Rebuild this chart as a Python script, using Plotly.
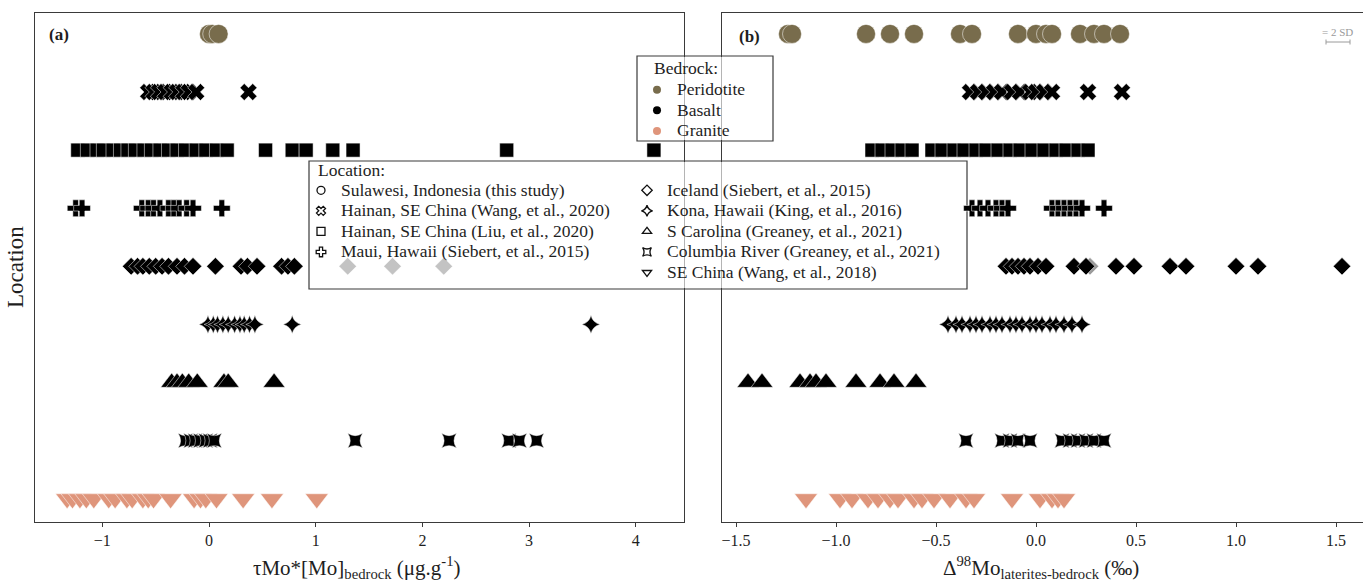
import plotly.graph_objects as go

# ---- categories -------------------------------------------------------------
locations = [
    "Sulawesi, Indonesia (this study)",
    "Hainan, SE China (Wang, et al., 2020)",
    "Hainan, SE China (Liu, et al., 2020)",
    "Maui, Hawaii (Siebert, et al., 2015)",
    "Iceland (Siebert, et al., 2015)",
    "Kona, Hawaii (King, et al., 2016)",
    "S Carolina (Greaney, et al., 2021)",
    "Columbia River (Greaney, et al., 2021)",
    "SE China (Wang, et al., 2018)",
]
location_bedrock = ["Peridotite", "Basalt", "Basalt", "Basalt", "Basalt",
                    "Basalt", "Basalt", "Basalt", "Granite"]
bedrock_types = ["Peridotite", "Basalt", "Granite"]

# ---- (a) tauMo * [Mo]bedrock, ug/g -----------------------------------------
tau_sulawesi = [0.0, 0.03, 0.09]
tau_hainan_wang = [-0.57, -0.52, -0.47, -0.41, -0.35, -0.30, -0.24, -0.19, -0.12, 0.37]
tau_hainan_liu = [-1.23, -1.14, -1.05, -0.99, -0.90, -0.83, -0.76, -0.69, -0.61, -0.54,
                  -0.46, -0.38, -0.30, -0.22, -0.12, -0.03, 0.07, 0.17, 0.53, 0.78,
                  0.91, 1.16, 1.35, 2.79, 4.17]
tau_maui = [-1.25, -1.19, -0.63, -0.57, -0.52, -0.46, -0.38, -0.33, -0.28, -0.21, -0.15, 0.12]
tau_iceland = [-0.73, -0.67, -0.62, -0.56, -0.50, -0.44, -0.38, -0.30, -0.23, -0.15,
               0.06, 0.30, 0.36, 0.45, 0.68, 0.74, 0.80]
tau_iceland_grey = [1.30, 1.72, 2.20]
tau_kona = [-0.01, 0.04, 0.08, 0.13, 0.18, 0.24, 0.29, 0.33, 0.38, 0.43, 0.78, 3.58]
tau_s_carolina = [-0.35, -0.30, -0.25, -0.19, -0.11, 0.14, 0.18, 0.61]
tau_columbia = [-0.22, -0.17, -0.13, -0.08, -0.03, 0.01, 0.05, 1.37, 2.25, 2.81, 2.91, 3.07]
tau_se_china = [-1.33, -1.28, -1.21, -1.15, -1.08, -0.94, -0.88, -0.77, -0.72, -0.62,
                -0.57, -0.52, -0.36, -0.14, -0.08, -0.03, 0.07, 0.32, 0.59, 1.01]

# ---- (b) D98Mo laterites-bedrock, permil -----------------------------------
d98_sulawesi = [-1.24, -1.22, -0.85, -0.73, -0.61, -0.38, -0.32, -0.09, 0.0, 0.05,
                0.08, 0.22, 0.29, 0.34, 0.42]
d98_hainan_wang = [-0.33, -0.29, -0.25, -0.21, -0.17, -0.12, -0.08, -0.03, 0.0, 0.04,
                   0.08, 0.26, 0.43]
d98_hainan_liu = [-0.82, -0.77, -0.72, -0.67, -0.62, -0.52, -0.47, -0.41, -0.36, -0.30,
                  -0.25, -0.19, -0.13, -0.08, -0.02, 0.04, 0.10, 0.15, 0.21, 0.26]
d98_maui = [-0.32, -0.28, -0.24, -0.20, -0.17, -0.14, 0.08, 0.11, 0.14, 0.17, 0.20, 0.23, 0.34]
d98_iceland = [-0.15, -0.12, -0.09, -0.06, -0.03, 0.01, 0.05, 0.19, 0.25, 0.40,
               0.49, 0.67, 0.75, 1.00, 1.11, 1.53]
d98_iceland_grey = [0.27]
d98_kona = [-0.44, -0.40, -0.37, -0.33, -0.30, -0.27, -0.23, -0.20, -0.17, -0.13,
            -0.10, -0.07, -0.03, 0.0, 0.03, 0.07, 0.10, 0.14, 0.18, 0.23]
d98_s_carolina = [-1.44, -1.37, -1.18, -1.13, -1.10, -1.05, -0.90, -0.78, -0.71, -0.60]
d98_columbia = [-0.35, -0.17, -0.13, -0.09, -0.03, 0.13, 0.17, 0.21, 0.25, 0.29, 0.34]
d98_se_china = [-1.15, -0.98, -0.92, -0.84, -0.79, -0.73, -0.69, -0.61, -0.57, -0.51,
                -0.43, -0.35, -0.31, -0.12, 0.02, 0.08, 0.11, 0.14]

tau_values = [tau_sulawesi, tau_hainan_wang, tau_hainan_liu, tau_maui, tau_iceland,
              tau_kona, tau_s_carolina, tau_columbia, tau_se_china]
d98_values = [d98_sulawesi, d98_hainan_wang, d98_hainan_liu, d98_maui, d98_iceland,
              d98_kona, d98_s_carolina, d98_columbia, d98_se_china]

# ---- styling ----------------------------------------------------------------
bedrock_colors = {"Peridotite": "#786c4c", "Basalt": "#000000", "Granite": "#df957b"}
grey_color = "#c3c3c3"
symbols = ["circle", "x", "square", "cross", "diamond", "star-diamond",
           "triangle-up", "star-square", "triangle-down"]
legend_symbols = ["circle-open", "x-open", "square-open", "cross-open", "diamond-open",
                  "star-diamond-open", "triangle-up-open", "star-square-open",
                  "triangle-down-open"]
sizes = [19, 15, 14, 14, 13.5, 13, 19, 13.5, 20]

FONT = "Liberation Serif"
TXT = "#1e1e1e"
LINE = "#3a3a3a"
KEY_FONT = 13.5      # sets the legend row pitch
LABEL_FONT = 17.5    # size of the legend wording itself

W, H = 1363, 583
ML, MR, MT, MB = 35, 0, 13, 61
PW, PH = W - ML - MR, H - MT - MB


def px(x):
    return (x - ML) / PW


def py(y):
    return (H - MB - y) / PH


def key_label(text):
    return '<span style="font-size:%spx">%s</span>' % (LABEL_FONT, text)


fig = go.Figure()

edge = dict(color="rgba(255,255,255,0.85)", width=0.6)

# grey Iceland points sit beneath the black ones
fig.add_trace(go.Scatter(x=tau_iceland_grey, y=[locations[4]] * len(tau_iceland_grey),
                         mode="markers", xaxis="x", yaxis="y", showlegend=False,
                         marker=dict(symbol="diamond", size=sizes[4], color=grey_color, line=edge)))
fig.add_trace(go.Scatter(x=d98_iceland_grey, y=[locations[4]] * len(d98_iceland_grey),
                         mode="markers", xaxis="x2", yaxis="y2", showlegend=False,
                         marker=dict(symbol="diamond", size=sizes[4], color="#9a9a9a", line=edge)))

for i, loc in enumerate(locations):
    col = bedrock_colors[location_bedrock[i]]
    for xs, xa, ya in ((tau_values[i], "x", "y"), (d98_values[i], "x2", "y2")):
        fig.add_trace(go.Scatter(
            x=xs, y=[loc] * len(xs), mode="markers", xaxis=xa, yaxis=ya,
            showlegend=False, name=loc,
            marker=dict(symbol=symbols[i], size=sizes[i], color=col, line=edge)))

# legend entries: bedrock colours
for rock in bedrock_types:
    fig.add_trace(go.Scatter(x=[None], y=[None], mode="markers", name=key_label(rock),
                             legend="legend",
                             marker=dict(symbol="circle", size=8, color=bedrock_colors[rock])))
# legend entries: location symbols, split over two columns
for i, loc in enumerate(locations):
    fig.add_trace(go.Scatter(x=[None], y=[None], mode="markers", name=key_label(loc),
                             legend="legend2" if i < 4 else "legend3",
                             marker=dict(symbol=legend_symbols[i], size=8, color="#111",
                                         line=dict(width=1.3, color="#111"))))

axis_common = dict(showline=True, linecolor=LINE, linewidth=1.2, showgrid=False,
                   zeroline=False, ticks="outside", ticklen=4, tickcolor=LINE,
                   tickfont=dict(family=FONT, size=16, color=TXT))

legend_common = dict(xanchor="left", yanchor="top", bgcolor="rgba(0,0,0,0)",
                     borderwidth=0, itemwidth=30,
                     font=dict(family=FONT, size=KEY_FONT, color=TXT))

fig.update_layout(
    width=W, height=H,
    margin=dict(l=ML, r=MR, t=MT, b=MB),
    paper_bgcolor="white", plot_bgcolor="white",
    font=dict(family=FONT, size=16, color=TXT),
    xaxis=dict(domain=[0, px(684)], range=[-1.631, 4.452], tickvals=[-1, 0, 1, 2, 3, 4],
               mirror=True, anchor="y", **axis_common),
    yaxis=dict(domain=[0, 1], anchor="x", type="category", categoryorder="array",
               categoryarray=locations, range=[8.40, -0.36], showticklabels=False,
               showline=True, linecolor=LINE, linewidth=1.2, mirror=True,
               showgrid=False, zeroline=False, ticks=""),
    xaxis2=dict(domain=[px(722), 1], range=[-1.57, 1.635],
                tickvals=[-1.5, -1.0, -0.5, 0.0, 0.5, 1.0, 1.5], tickformat=".1f",
                mirror=True, anchor="y2", **axis_common),
    yaxis2=dict(domain=[0, 1], anchor="x2", type="category", categoryorder="array",
                categoryarray=locations, range=[8.40, -0.36], showticklabels=False,
                showline=True, linecolor=LINE, linewidth=1.2, mirror=False,
                showgrid=False, zeroline=False, ticks=""),
    legend=dict(x=px(637), y=py(74.5), **legend_common),
    legend2=dict(x=px(301), y=py(175), **legend_common),
    legend3=dict(x=px(627), y=py(175), **legend_common),
)

# legend frames (drawn under the data so points stay visible)
box_line = dict(color=LINE, width=1.2)
legend_boxes = ((637, 56, 773, 141), (309, 161, 967, 289))
for x0, y0, x1, y1 in legend_boxes:
    fig.add_shape(type="rect", xref="paper", yref="paper", layer="below",
                  x0=px(x0), x1=px(x1), y0=py(y1), y1=py(y0),
                  fillcolor="white", line=box_line)
# soften the panel borders where they pass behind the legend frames
for x0, y0, x1, y1 in legend_boxes:
    for xl in (684, 722):
        fig.add_shape(type="rect", xref="paper", yref="paper", layer="above",
                      x0=px(xl - 1.5), x1=px(xl + 1.5), y0=py(y1 - 1), y1=py(y0 + 1),
                      fillcolor="rgba(255,255,255,0.62)", line=dict(width=0))

# 2 SD scale bar
sd_col = "#9a9a9a"
fig.add_shape(type="line", xref="paper", yref="paper", x0=px(1326), x1=px(1350),
              y0=py(42), y1=py(42), line=dict(color=sd_col, width=1))
for xe in (1326, 1350):
    fig.add_shape(type="line", xref="paper", yref="paper", x0=px(xe), x1=px(xe),
                  y0=py(39.5), y1=py(44.5), line=dict(color=sd_col, width=1))

annotations = [
    dict(text="<b>(a)</b>", x=px(47), y=py(34), xanchor="left", yanchor="middle",
         font=dict(size=17)),
    dict(text="<b>(b)</b>", x=px(737), y=py(36), xanchor="left", yanchor="middle",
         font=dict(size=17)),
    dict(text="= 2 SD", x=px(1337), y=py(32), xanchor="center", yanchor="middle",
         font=dict(size=11, color=sd_col)),
    dict(text="Bedrock:", x=px(652), y=py(68), xanchor="left", yanchor="middle",
         font=dict(size=LABEL_FONT)),
    dict(text="Location:", x=px(316), y=py(170), xanchor="left", yanchor="middle",
         font=dict(size=LABEL_FONT)),
    dict(text="Location", x=px(15), y=py(267), xanchor="center", yanchor="middle",
         textangle=-90, font=dict(size=23)),
    dict(text="τMo*[Mo]<sub>bedrock</sub> (μg.g<sup>-1</sup>)", x=px(357), y=py(567),
         xanchor="center", yanchor="middle", font=dict(size=21)),
    dict(text="Δ<sup>98</sup>Mo<sub>laterites-bedrock</sub> (‰)", x=px(1041), y=py(567),
         xanchor="center", yanchor="middle", font=dict(size=21)),
]
for a in annotations:
    a.update(xref="paper", yref="paper", showarrow=False)
    a.setdefault("font", {})
    a["font"].setdefault("family", FONT)
    a["font"].setdefault("color", TXT)
fig.update_layout(annotations=annotations)

fig.write_html("out.html")
